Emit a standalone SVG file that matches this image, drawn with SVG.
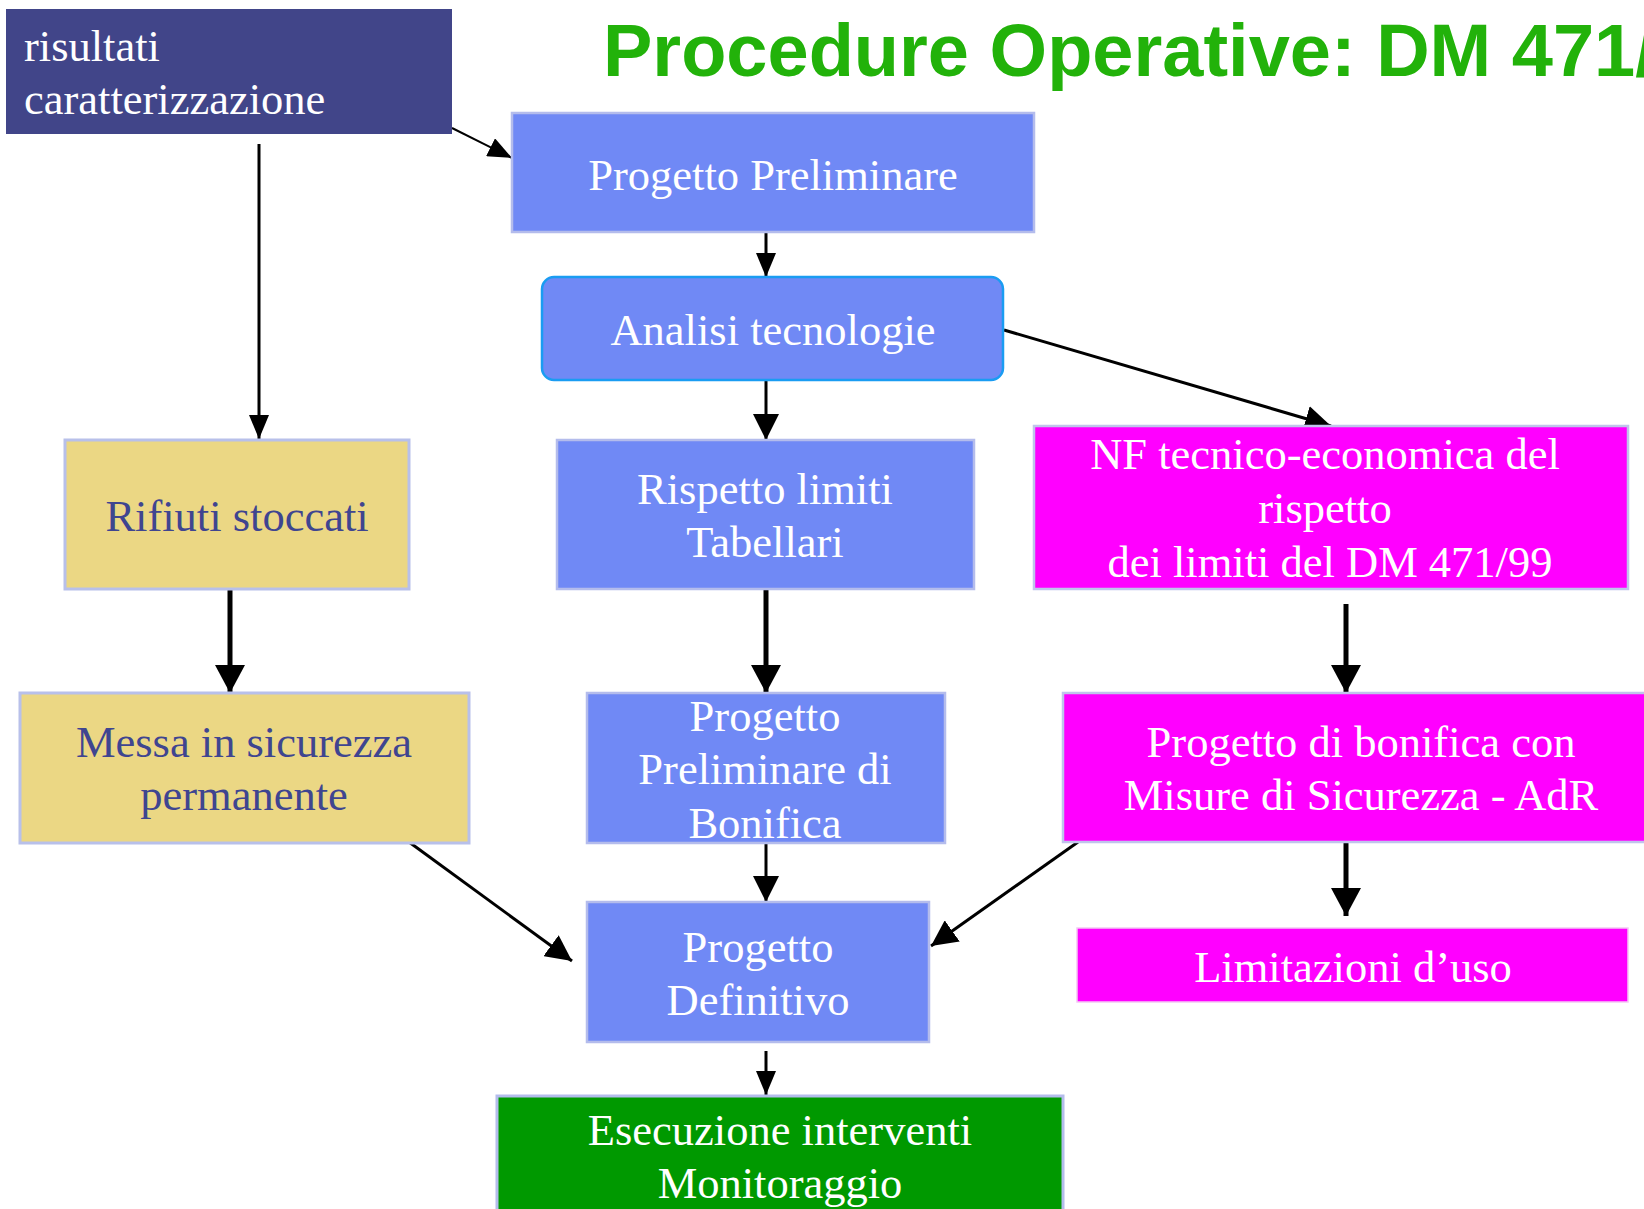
<svg xmlns="http://www.w3.org/2000/svg" width="1644" height="1209" viewBox="0 0 1644 1209">
<style>
  .t { font-family: "Liberation Serif", "Times New Roman", serif; font-size: 44.5px; fill: #ffffff; text-anchor: middle; }
  .dk { fill: #3f4590; }
  .blue { fill: #7089f5; stroke: #b4bcec; stroke-width: 2.5; }
  .mag { fill: #ff00ff; stroke: #c0c4ec; stroke-width: 2.5; }
  .tan { fill: #ebd784; stroke: #b8c0ea; stroke-width: 3; }
  .c { fill: none; stroke: #000; }
  .thin { stroke-width: 2; }
  .mid { stroke-width: 3; }
  .thick { stroke-width: 5; }
</style>
<defs>
  <marker id="ahS" markerUnits="userSpaceOnUse" markerWidth="26" markerHeight="20" refX="24" refY="10" orient="auto">
    <path d="M0,0 L24,10 L0,20 z" fill="#000"/>
  </marker>
  <marker id="ahM" markerUnits="userSpaceOnUse" markerWidth="28" markerHeight="26" refX="26" refY="13" orient="auto">
    <path d="M0,0 L26,13 L0,26 z" fill="#000"/>
  </marker>
  <marker id="ahL" markerUnits="userSpaceOnUse" markerWidth="30" markerHeight="30" refX="28" refY="15" orient="auto">
    <path d="M0,0 L28,15 L0,30 z" fill="#000"/>
  </marker>
</defs>
<rect x="0" y="0" width="1644" height="1209" fill="#ffffff"/>
<text x="603" y="76" font-family="'Liberation Sans', Arial, sans-serif" font-weight="bold" font-size="74" fill="#22b20a">Procedure Operative: DM 471/</text>

<g id="connectors">
  <line class="c thin" x1="452" y1="128" x2="512" y2="158" marker-end="url(#ahS)"/>
  <line class="c mid" x1="259" y1="144" x2="259" y2="439" marker-end="url(#ahS)"/>
  <line class="c mid" x1="766" y1="232" x2="766" y2="277" marker-end="url(#ahS)"/>
  <line class="c mid" x1="766" y1="380" x2="766" y2="440" marker-end="url(#ahM)"/>
  <line class="c mid" x1="1004" y1="330" x2="1331" y2="426" marker-end="url(#ahM)"/>
  <line class="c thick" x1="230" y1="589" x2="230" y2="693" marker-end="url(#ahL)"/>
  <line class="c thick" x1="766" y1="589" x2="766" y2="693" marker-end="url(#ahL)"/>
  <line class="c thick" x1="1346" y1="604" x2="1346" y2="693" marker-end="url(#ahL)"/>
  <line class="c mid" x1="409" y1="842" x2="572" y2="961" marker-end="url(#ahM)"/>
  <line class="c mid" x1="766" y1="843" x2="766" y2="902" marker-end="url(#ahM)"/>
  <line class="c mid" x1="1078" y1="842" x2="931" y2="946" marker-end="url(#ahM)"/>
  <line class="c thick" x1="1346" y1="839" x2="1346" y2="916" marker-end="url(#ahL)"/>
  <line class="c mid" x1="766" y1="1051" x2="766" y2="1095" marker-end="url(#ahS)"/>
</g>

<g id="risultati">
  <rect x="6" y="9" width="446" height="125" fill="#414589"/>
  <text class="t" x="24" y="61" style="text-anchor:start">risultati</text>
  <text class="t" x="24" y="114" style="text-anchor:start">caratterizzazione</text>
</g>

<g id="progetto-preliminare">
  <rect class="blue" x="512" y="113" width="522" height="119"/>
  <text class="t" x="773" y="190">Progetto Preliminare</text>
</g>

<g id="analisi">
  <rect x="542" y="277" width="461" height="103" rx="12" fill="#7089f5" stroke="#1a9cf2" stroke-width="2.5"/>
  <text class="t" x="773" y="345">Analisi tecnologie</text>
</g>

<g id="rifiuti">
  <rect class="tan" x="65" y="440" width="344" height="149"/>
  <text class="t dk" x="237" y="531">Rifiuti stoccati</text>
</g>

<g id="rispetto">
  <rect class="blue" x="557" y="440" width="417" height="149"/>
  <text class="t" x="765" y="504">Rispetto limiti</text>
  <text class="t" x="765" y="557">Tabellari</text>
</g>

<g id="nf">
  <rect class="mag" x="1034" y="426" width="594" height="163"/>
  <text class="t" x="1325" y="469">NF tecnico-economica del</text>
  <text class="t" x="1325" y="523">rispetto</text>
  <text class="t" x="1330" y="577">dei limiti del DM 471/99</text>
</g>

<g id="messa">
  <rect class="tan" x="20" y="693" width="449" height="150"/>
  <text class="t dk" x="244" y="757">Messa in sicurezza</text>
  <text class="t dk" x="244" y="810">permanente</text>
</g>

<g id="ppb">
  <rect class="blue" x="587" y="693" width="358" height="150"/>
  <text class="t" x="765" y="731">Progetto</text>
  <text class="t" x="765" y="784">Preliminare di</text>
  <text class="t" x="765" y="838">Bonifica</text>
</g>

<g id="bonifica-sicurezza">
  <rect class="mag" x="1063" y="693" width="600" height="149"/>
  <text class="t" x="1361" y="757">Progetto di bonifica con</text>
  <text class="t" x="1361" y="810">Misure di Sicurezza - AdR</text>
</g>

<g id="definitivo">
  <rect class="blue" x="587" y="902" width="342" height="140"/>
  <text class="t" x="758" y="962">Progetto</text>
  <text class="t" x="758" y="1015">Definitivo</text>
</g>

<g id="limitazioni">
  <rect x="1077" y="928" width="551" height="74" fill="#ff00ff" stroke="#f4c8f4" stroke-width="1.5"/>
  <text class="t" x="1353" y="982">Limitazioni d’uso</text>
</g>

<g id="esecuzione">
  <rect x="497" y="1096" width="566" height="130" fill="#009900" stroke="#b4bcec" stroke-width="3"/>
  <text class="t" x="780" y="1145">Esecuzione interventi</text>
  <text class="t" x="780" y="1198">Monitoraggio</text>
</g>
</svg>
